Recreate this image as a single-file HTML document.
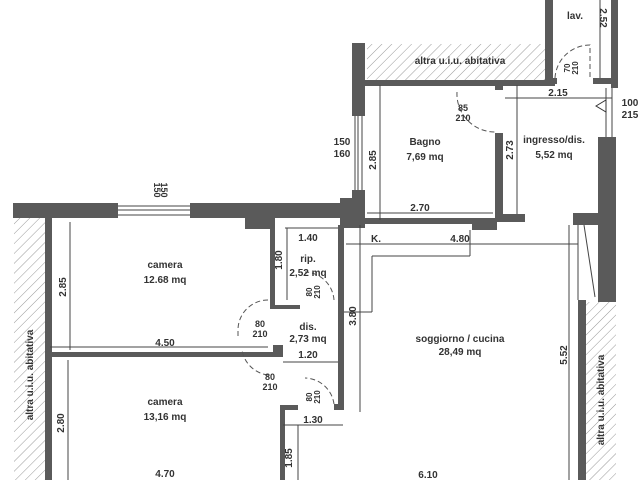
<!DOCTYPE html>
<html><head><meta charset="utf-8"><style>body{margin:0;background:#fff}svg{display:block}text{font-family:"Liberation Sans",sans-serif;font-weight:bold;fill:#333}</style></head><body>
<svg width="640" height="480" viewBox="0 0 640 480" xmlns="http://www.w3.org/2000/svg">
<defs><pattern id="h" width="7" height="7" patternUnits="userSpaceOnUse" patternTransform="rotate(45)"><line x1="0" y1="0" x2="0" y2="7" stroke="#999" stroke-width="1"/></pattern></defs>
<rect width="640" height="480" fill="#fff"/>
<!-- hatched areas -->
<rect x="14" y="218" width="31" height="262" fill="url(#h)"/>
<rect x="367" y="44" width="178" height="36" fill="url(#h)"/>
<rect x="586" y="302" width="30" height="178" fill="url(#h)"/>
<g fill="#5a5a5a">
<!-- top wall left -->
<rect x="13" y="203" width="105" height="15"/>
<rect x="190" y="203" width="160" height="15"/>
<rect x="245" y="203" width="28" height="26"/>
<rect x="340" y="198" width="25" height="30"/>
<!-- left wall -->
<rect x="45" y="218" width="7" height="262"/>
<!-- partition between cameras -->
<rect x="48" y="352" width="232" height="5"/>
<rect x="270" y="218" width="5" height="88"/>
<rect x="270" y="305" width="30" height="4"/>
<rect x="273" y="345" width="10" height="12"/>
<rect x="280" y="405" width="18" height="5"/>
<rect x="280" y="405" width="5" height="75"/>
<rect x="338" y="225" width="6" height="185"/>
<rect x="334" y="404" width="10" height="6"/>
<!-- bagno -->
<rect x="352" y="43" width="13" height="73"/>
<rect x="352" y="190" width="13" height="35"/>
<rect x="365" y="80" width="190" height="6"/>
<rect x="545" y="0" width="8" height="86"/>
<rect x="545" y="78" width="12" height="6"/>
<rect x="593" y="78" width="22" height="6"/>
<rect x="611" y="0" width="7" height="88"/>
<rect x="495" y="84" width="8" height="6"/>
<rect x="495" y="133" width="8" height="88"/>
<rect x="362" y="218" width="135" height="6"/>
<rect x="472" y="220" width="25" height="10"/>
<rect x="495" y="214" width="30" height="8"/>
<!-- right wall -->
<rect x="598" y="137" width="18" height="165"/>
<rect x="573" y="213" width="30" height="12"/>
<rect x="578" y="300" width="8" height="180"/>
</g>
<g fill="none" stroke="#444" stroke-width="1">
<!-- windows -->
<line x1="118" y1="206" x2="190" y2="206"/><line x1="118" y1="210" x2="190" y2="210"/><line x1="118" y1="215" x2="190" y2="215"/>
<line x1="355" y1="116" x2="355" y2="190"/><line x1="358" y1="116" x2="358" y2="190"/><line x1="362" y1="116" x2="362" y2="190"/>
<line x1="612" y1="88" x2="612" y2="137"/><line x1="606" y1="88" x2="606" y2="137"/>
<!-- dimension lines -->
<line x1="70" y1="222" x2="70" y2="350"/><line x1="50" y1="347" x2="268" y2="347"/>
<line x1="68" y1="360" x2="68" y2="480"/>
<line x1="285" y1="228" x2="338" y2="228"/><line x1="287" y1="228" x2="287" y2="300"/>
<line x1="283" y1="362" x2="338" y2="362"/>
<line x1="283" y1="425" x2="343" y2="425"/><line x1="298" y1="425" x2="298" y2="480"/>
<line x1="360" y1="225" x2="360" y2="412"/><line x1="346" y1="244" x2="578" y2="244"/>
<line x1="372" y1="256" x2="470" y2="256"/><line x1="470" y1="230" x2="470" y2="256"/><line x1="372" y1="256" x2="372" y2="312"/><line x1="372" y1="312" x2="344" y2="312"/>
<line x1="569" y1="225" x2="569" y2="480"/><line x1="578" y1="225" x2="578" y2="300"/>
<line x1="380" y1="85" x2="380" y2="220"/><line x1="367" y1="213" x2="493" y2="213"/>
<line x1="517" y1="85" x2="517" y2="214"/><line x1="505" y1="98" x2="612" y2="98"/>
<line x1="600" y1="0" x2="600" y2="78"/>
<line x1="584" y1="225" x2="595" y2="297"/>
</g>
<g fill="none" stroke="#555" stroke-dasharray="5,3">
<path d="M268 300 A30 30 0 0 0 238 330 L238 338"/><path d="M268 375 A30 30 0 0 1 242 350"/>
<path d="M334 300 A30 30 0 0 0 305 272"/><path d="M334 404 A30 30 0 0 0 305 378"/>
<path d="M457 92 A38 38 0 0 0 495 132"/><path d="M555 78 A35 35 0 0 1 590 45 L590 78"/>
</g>
<polygon points="596,106 606,100 606,112" fill="none" stroke="#333"/>
<g font-size="10" text-anchor="middle">
<text x="165" y="268">camera</text><text x="165" y="283">12.68 mq</text>
<text x="165" y="405">camera</text><text x="165" y="420">13,16 mq</text>
<text x="308" y="241" font-weight="normal" fill="#777">1.40</text>
<text x="308" y="262" fill="#888">rip.</text><text x="308" y="276" fill="#888">2,52 mq</text>
<text x="308" y="330">dis.</text><text x="308" y="342">2,73 mq</text>
<text x="308" y="358">1.20</text><text x="313" y="423">1.30</text>
<text x="165" y="346">4.50</text><text x="165" y="477">4.70</text>
<text x="425" y="145">Bagno</text><text x="425" y="160">7,69 mq</text>
<text x="420" y="211">2.70</text><text x="460" y="64">altra u.i.u. abitativa</text>
<text x="554" y="143">ingresso/dis.</text><text x="554" y="158">5,52 mq</text>
<text x="558" y="96">2.15</text><text x="575" y="19">lav.</text>
<text x="460" y="342">soggiorno / cucina</text><text x="460" y="355">28,49 mq</text>
<text x="460" y="242">4.80</text><text x="428" y="478">6.10</text>
<text x="371" y="242" text-anchor="start">K.</text>
<text x="342" y="145">150</text><text x="342" y="157">160</text>
<text x="154" y="190" font-size="9" transform="rotate(90 154 190)">150</text>
<text x="161" y="190" font-size="9" transform="rotate(90 161 190)">150</text>
<text x="630" y="106">100</text><text x="630" y="118">215</text>
</g>
<g font-size="9" text-anchor="middle">
<text x="260" y="327">80</text><text x="260" y="337">210</text>
<text x="270" y="380">80</text><text x="270" y="390">210</text>
<text x="463" y="111">85</text><text x="463" y="121">210</text>
</g>
<g font-size="10" text-anchor="middle">
<text transform="translate(66 287) rotate(-90)">2.85</text>
<text transform="translate(64 423) rotate(-90)">2.80</text>
<text transform="translate(282 260) rotate(-90)">1.80</text>
<text transform="translate(356 316) rotate(-90)">3.80</text>
<text transform="translate(292 458) rotate(-90)">1.85</text>
<text transform="translate(376 160) rotate(-90)">2.85</text>
<text transform="translate(513 150) rotate(-90)">2.73</text>
<text transform="translate(567 355) rotate(-90)">5.52</text>
<text transform="translate(33 375) rotate(-90)">altra u.i.u. abitativa</text>
<text transform="translate(604 400) rotate(-90)">altra u.i.u. abitativa</text>
<text transform="translate(600 18) rotate(90)">2.52</text>
</g>
<g font-size="8" text-anchor="middle">
<text transform="translate(312 292) rotate(-90)">80</text><text transform="translate(320 292) rotate(-90)">210</text>
<text transform="translate(312 397) rotate(-90)">80</text><text transform="translate(320 397) rotate(-90)">210</text>
<text transform="translate(570 68) rotate(-90)">70</text><text transform="translate(578 68) rotate(-90)">210</text>
</g>
</svg>
</body></html>
